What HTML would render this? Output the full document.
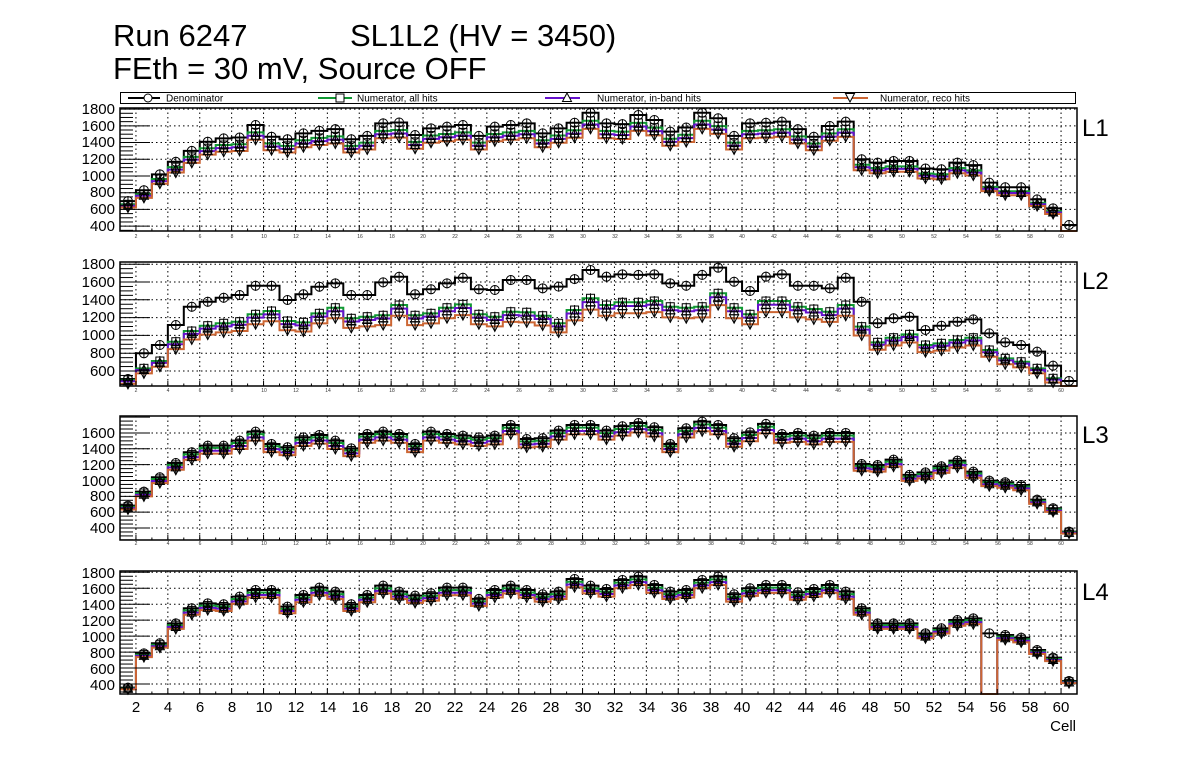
<!DOCTYPE html>
<html><head><meta charset="utf-8">
<style>
html,body{margin:0;padding:0;background:#fff;}
svg{display:block;font-family:"Liberation Sans",sans-serif;}
</style></head>
<body>
<svg id="s" width="1196" height="772" viewBox="0 0 1196 772" xmlns="http://www.w3.org/2000/svg">
<rect width="1196" height="772" fill="#fff"/>
<g id="grid"></g>
<g id="data"></g>
<g id="frames"></g>
<!-- titles -->
<text x="113" y="46" font-size="31">Run 6247</text>
<text x="350" y="46" font-size="31">SL1L2 (HV = 3450)</text>
<text x="113" y="79" font-size="31">FEth = 30 mV, Source OFF</text>
<!-- legend -->
<rect x="120.5" y="92.5" width="955" height="11" fill="#fff" stroke="#000" stroke-width="1"/>
<line x1="128" y1="98" x2="160" y2="98" stroke="#000" stroke-width="2"/>
<circle cx="148" cy="98" r="4" fill="#fff" stroke="#000"/>
<text x="166" y="101.5" font-size="10">Denominator</text>
<line x1="318" y1="98" x2="352" y2="98" stroke="#119933" stroke-width="2"/>
<rect x="336" y="94" width="8" height="8" fill="#fff" stroke="#000"/>
<text x="357" y="101.5" font-size="10">Numerator, all hits</text>
<line x1="545" y1="98" x2="580" y2="98" stroke="#6611cc" stroke-width="2"/>
<polygon points="567,93 571.5,101.5 562.5,101.5" fill="#fff" stroke="#000"/>
<text x="597" y="101.5" font-size="10">Numerator, in-band hits</text>
<line x1="833" y1="98" x2="868" y2="98" stroke="#cc6633" stroke-width="2"/>
<polygon points="850,102 854.5,93.5 845.5,93.5" fill="#fff" stroke="#000"/>
<text x="880" y="101.5" font-size="10">Numerator, reco hits</text>
<!-- panel labels -->
<text x="1082" y="136" font-size="24">L1</text>
<text x="1082" y="289" font-size="24">L2</text>
<text x="1082" y="443" font-size="24">L3</text>
<text x="1082" y="600" font-size="24">L4</text>
<g font-size="15" text-anchor="end">
<text x="115" y="114">1800</text><text x="115" y="131">1600</text><text x="115" y="147">1400</text><text x="115" y="164">1200</text><text x="115" y="181">1000</text><text x="115" y="197">800</text><text x="115" y="214">600</text><text x="115" y="231">400</text>
<text x="115" y="269">1800</text><text x="115" y="287">1600</text><text x="115" y="305">1400</text><text x="115" y="322">1200</text><text x="115" y="340">1000</text><text x="115" y="358">800</text><text x="115" y="376">600</text>
<text x="115" y="438">1600</text><text x="115" y="454">1400</text><text x="115" y="470">1200</text><text x="115" y="486">1000</text><text x="115" y="501">800</text><text x="115" y="517">600</text><text x="115" y="533">400</text>
<text x="115" y="578">1800</text><text x="115" y="594">1600</text><text x="115" y="610">1400</text><text x="115" y="626">1200</text><text x="115" y="642">1000</text><text x="115" y="658">800</text><text x="115" y="674">600</text><text x="115" y="690">400</text>
</g>
<g font-size="5" text-anchor="middle" fill="#333">
<g transform="translate(0,238)"><text x="136" y="0">2</text><text x="168" y="0">4</text><text x="200" y="0">6</text><text x="232" y="0">8</text><text x="264" y="0">10</text><text x="296" y="0">12</text><text x="328" y="0">14</text><text x="360" y="0">16</text><text x="392" y="0">18</text><text x="423" y="0">20</text><text x="455" y="0">22</text><text x="487" y="0">24</text><text x="519" y="0">26</text><text x="551" y="0">28</text><text x="583" y="0">30</text><text x="615" y="0">32</text><text x="647" y="0">34</text><text x="679" y="0">36</text><text x="711" y="0">38</text><text x="742" y="0">40</text><text x="774" y="0">42</text><text x="806" y="0">44</text><text x="838" y="0">46</text><text x="870" y="0">48</text><text x="902" y="0">50</text><text x="934" y="0">52</text><text x="966" y="0">54</text><text x="998" y="0">56</text><text x="1030" y="0">58</text><text x="1061" y="0">60</text></g>
<g transform="translate(0,392)"><text x="136" y="0">2</text><text x="168" y="0">4</text><text x="200" y="0">6</text><text x="232" y="0">8</text><text x="264" y="0">10</text><text x="296" y="0">12</text><text x="328" y="0">14</text><text x="360" y="0">16</text><text x="392" y="0">18</text><text x="423" y="0">20</text><text x="455" y="0">22</text><text x="487" y="0">24</text><text x="519" y="0">26</text><text x="551" y="0">28</text><text x="583" y="0">30</text><text x="615" y="0">32</text><text x="647" y="0">34</text><text x="679" y="0">36</text><text x="711" y="0">38</text><text x="742" y="0">40</text><text x="774" y="0">42</text><text x="806" y="0">44</text><text x="838" y="0">46</text><text x="870" y="0">48</text><text x="902" y="0">50</text><text x="934" y="0">52</text><text x="966" y="0">54</text><text x="998" y="0">56</text><text x="1030" y="0">58</text><text x="1061" y="0">60</text></g>
<g transform="translate(0,545)"><text x="136" y="0">2</text><text x="168" y="0">4</text><text x="200" y="0">6</text><text x="232" y="0">8</text><text x="264" y="0">10</text><text x="296" y="0">12</text><text x="328" y="0">14</text><text x="360" y="0">16</text><text x="392" y="0">18</text><text x="423" y="0">20</text><text x="455" y="0">22</text><text x="487" y="0">24</text><text x="519" y="0">26</text><text x="551" y="0">28</text><text x="583" y="0">30</text><text x="615" y="0">32</text><text x="647" y="0">34</text><text x="679" y="0">36</text><text x="711" y="0">38</text><text x="742" y="0">40</text><text x="774" y="0">42</text><text x="806" y="0">44</text><text x="838" y="0">46</text><text x="870" y="0">48</text><text x="902" y="0">50</text><text x="934" y="0">52</text><text x="966" y="0">54</text><text x="998" y="0">56</text><text x="1030" y="0">58</text><text x="1061" y="0">60</text></g>
</g>
<g font-size="15" text-anchor="middle">
<text x="136" y="712">2</text><text x="168" y="712">4</text><text x="200" y="712">6</text><text x="232" y="712">8</text><text x="264" y="712">10</text><text x="296" y="712">12</text><text x="328" y="712">14</text><text x="360" y="712">16</text><text x="392" y="712">18</text><text x="423" y="712">20</text><text x="455" y="712">22</text><text x="487" y="712">24</text><text x="519" y="712">26</text><text x="551" y="712">28</text><text x="583" y="712">30</text><text x="615" y="712">32</text><text x="647" y="712">34</text><text x="679" y="712">36</text><text x="711" y="712">38</text><text x="742" y="712">40</text><text x="774" y="712">42</text><text x="806" y="712">44</text><text x="838" y="712">46</text><text x="870" y="712">48</text><text x="902" y="712">50</text><text x="934" y="712">52</text><text x="966" y="712">54</text><text x="998" y="712">56</text><text x="1030" y="712">58</text><text x="1061" y="712">60</text>
</g>
<text x="1076" y="731" font-size="15" text-anchor="end">Cell</text>
</svg>
<script>
(function(){
var NS="http://www.w3.org/2000/svg";
function el(p,t,a){var e=document.createElementNS(NS,t);for(var k in a)e.setAttribute(k,a[k]);p.appendChild(e);return e;}
var grid=document.getElementById('grid'),data=document.getElementById('data'),fr=document.getElementById('frames');
var XL=120,XR=1077;
function X(v){return XL+(v-1)*(XR-XL)/60;}
var panels=[
 {top:108,bot:231,y0:232,v0:330,k:0.0836,ticks:[400,600,800,1000,1200,1400,1600,1800],
  D:[700,830,1020,1170,1300,1410,1450,1460,1610,1470,1440,1510,1540,1560,1440,1480,1630,1640,1490,1570,1590,1610,1480,1590,1610,1630,1510,1570,1637,1757,1630,1620,1730,1670,1530,1580,1757,1690,1480,1630,1637,1650,1560,1470,1598,1650,1200,1160,1180,1180,1090,1080,1160,1130,920,865,865,720,613,414],
  r:[0.945,0.92,0.89],zero:[60]},
 {top:262,bot:386,y0:371,v0:600,k:0.089,ticks:[600,800,1000,1200,1400,1600,1800],
  D:[510,799,892,1117,1322,1378,1423,1454,1558,1558,1398,1462,1547,1585,1454,1454,1596,1659,1462,1518,1585,1648,1518,1510,1622,1622,1529,1548,1633,1735,1660,1686,1680,1686,1585,1558,1680,1761,1603,1499,1660,1686,1558,1558,1529,1648,1378,1136,1192,1210,1061,1109,1154,1180,1023,922,892,817,660,488],
  G:[500,630,712,929,1049,1109,1136,1154,1237,1274,1162,1147,1248,1311,1192,1210,1226,1341,1226,1248,1311,1349,1237,1210,1266,1260,1221,1136,1285,1417,1341,1372,1372,1386,1322,1311,1322,1473,1311,1237,1386,1386,1322,1296,1266,1341,1098,922,974,1012,892,911,949,974,836,742,704,630,518,0],
  zero:[60]},
 {top:416,bot:540,y0:528,v0:400,k:0.0792,ticks:[400,600,800,1000,1200,1400,1600],
  D:[682,859,1040,1221,1356,1440,1440,1503,1617,1461,1419,1545,1575,1503,1406,1587,1617,1587,1461,1617,1587,1566,1545,1566,1701,1524,1533,1630,1701,1701,1630,1684,1726,1672,1461,1659,1743,1701,1533,1608,1714,1587,1600,1566,1600,1600,1208,1196,1263,1070,1103,1179,1250,1112,998,977,943,758,649,354],
  r:[0.98,0.955,0.93],zero:[]},
 {top:571,bot:694,y0:684,v0:400,k:0.0798,ticks:[400,600,800,1000,1200,1400,1600,1800],
  D:[354,784,910,1160,1349,1411,1399,1495,1578,1578,1369,1516,1608,1558,1399,1516,1633,1558,1507,1537,1608,1608,1466,1578,1633,1578,1524,1558,1716,1633,1591,1704,1746,1641,1558,1578,1704,1746,1524,1600,1641,1641,1549,1591,1641,1558,1349,1160,1160,1160,1035,1098,1202,1223,1035,1014,981,826,730,437],
  r:[0.98,0.96,0.94],zero:[55]}
];
var cols=['#000','#119933','#6611cc','#cc6633'];
panels.forEach(function(P){
 function Y(v){var y=P.y0-(v-P.v0)*P.k;return Math.max(P.top,Math.min(P.bot,y));}
 for(var c=2;c<=60;c+=2){el(grid,'line',{x1:X(c),y1:P.top,x2:X(c),y2:P.bot,stroke:'#000','stroke-width':1,'stroke-dasharray':'1.5,3'});}
 P.ticks.forEach(function(t){var y=P.y0-(t-P.v0)*P.k;el(grid,'line',{x1:XL,y1:y,x2:XR,y2:y,stroke:'#000','stroke-width':1,'stroke-dasharray':'1.5,3'});});
 var S=[P.D];
 if(P.G){S.push(P.G);S.push(P.G.map(function(v){return v*0.97;}));S.push(P.G.map(function(v){return v*0.91;}));}
 else{P.r.forEach(function(r){S.push(P.D.map(function(v){return v*r;}));});}
 for(var s=1;s<4;s++){P.zero.forEach(function(z){S[s][z-1]=0;});}
 S.forEach(function(arr,si){
  var d='M'+X(1)+','+Y(arr[0]);
  for(var i=0;i<60;i++){var y=Y(arr[i]);if(i>0)d+=' L'+X(i+1)+','+y;d+=' L'+X(i+2)+','+y;}
  el(data,'path',{d:d,fill:'none',stroke:cols[si],'stroke-width':2});
 });
 S.forEach(function(arr,si){
  for(var i=0;i<60;i++){
   if(arr[i]<=0)continue;
   var cx=X(i+1.5),cy=Y(arr[i]);
   if(cy>=P.bot-1||cy<=P.top)continue;
   el(data,'line',{x1:cx,y1:cy-5,x2:cx,y2:cy+5,stroke:'#000','stroke-width':1});
   if(si==0)el(data,'circle',{cx:cx,cy:cy,r:4.5,fill:'none',stroke:'#000','stroke-width':1});
   else if(si==1)el(data,'rect',{x:cx-4,y:cy-4,width:8,height:8,fill:'none',stroke:'#000','stroke-width':1});
   else if(si==2)el(data,'polygon',{points:(cx)+','+(cy-5)+' '+(cx+4.5)+','+(cy+3.5)+' '+(cx-4.5)+','+(cy+3.5),fill:'none',stroke:'#000','stroke-width':1});
   else el(data,'polygon',{points:(cx)+','+(cy+5)+' '+(cx+4.5)+','+(cy-3.5)+' '+(cx-4.5)+','+(cy-3.5),fill:'none',stroke:'#000','stroke-width':1});
  }
 });
 el(fr,'rect',{x:XL,y:P.top,width:XR-XL,height:P.bot-P.top,fill:'none',stroke:'#000','stroke-width':1.5});
 var tmin=P.v0-(P.bot-P.y0)/P.k, tmax=P.v0+(P.y0-P.top)/P.k;
 for(var v=Math.ceil(tmin/50)*50;v<=tmax;v+=50){
  var y=P.y0-(v-P.v0)*P.k;var major=(v%200==0);
  el(fr,'line',{x1:XL,y1:y,x2:XL+(major?30:13),y2:y,stroke:'#000','stroke-width':1});
 }
 for(var c=1;c<=61;c++){var major=(c%2==0);el(fr,'line',{x1:X(c),y1:P.bot,x2:X(c),y2:P.bot-(major?5:2.5),stroke:'#000','stroke-width':1});}
});
})();
</script>
</body></html>
